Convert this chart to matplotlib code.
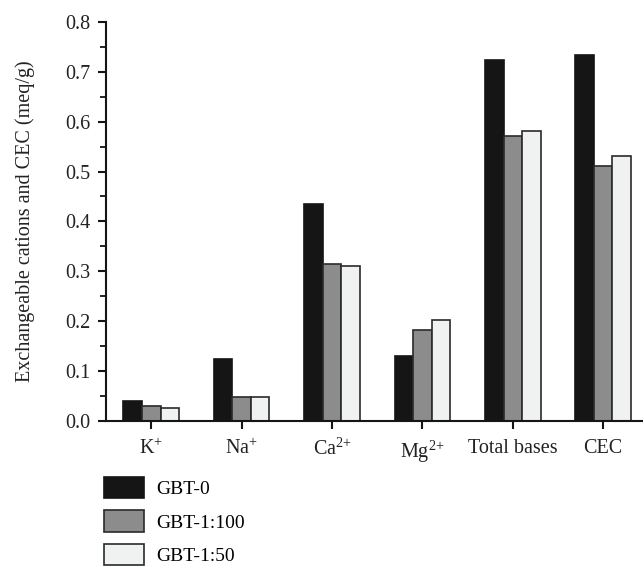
import numpy as np
import matplotlib
matplotlib.use("Agg")
import matplotlib.pyplot as plt
from matplotlib.patches import Patch

# values (meq/g)
categories = ["K$^{+}$", "Na$^{+}$", "Ca$^{2{+}}$", "Mg$^{2{+}}$", "Total bases", "CEC"]
series_names = ["GBT-0", "GBT-1:100", "GBT-1:50"]
gbt_0 = [0.039, 0.124, 0.434, 0.130, 0.723, 0.733]
gbt_1_100 = [0.029, 0.048, 0.314, 0.183, 0.572, 0.512]
gbt_1_50 = [0.025, 0.048, 0.310, 0.203, 0.582, 0.532]

colors = ["#151515", "#8c8c8c", "#f0f2f1"]
edges = ["#151515", "#2a2a2a", "#2a2a2a"]

plt.rcParams["font.family"] = ["Liberation Serif", "DejaVu Serif"]
plt.rcParams["mathtext.fontset"] = "custom"
plt.rcParams["mathtext.rm"] = "Liberation Serif"
plt.rcParams["mathtext.default"] = "rm"

fig = plt.figure(figsize=(6.43, 5.71), dpi=100)
ax = fig.add_axes([0.165, 0.263, 0.835, 0.6985])

x = np.arange(len(categories))
w = 0.205
handles = []
for i, (name, vals) in enumerate(zip(series_names, [gbt_0, gbt_1_100, gbt_1_50])):
    ax.bar(x + (i - 1) * w, vals, width=w, color=colors[i], edgecolor=edges[i],
           linewidth=1.2)
    handles.append(Patch(facecolor=colors[i], edgecolor=edges[i], linewidth=1.2, label=name))

ax.set_xlim(-0.5, 5.44)
ax.set_ylim(0, 0.8)
ax.set_yticks(np.arange(0, 0.81, 0.1))
ax.set_yticks(np.arange(0.05, 0.8, 0.1), minor=True)
ax.set_yticklabels([f"{v:.1f}" for v in np.arange(0, 0.81, 0.1)])
ax.set_xticks(x)
ax.set_xticklabels(categories)

for side in ["top", "right"]:
    ax.spines[side].set_visible(False)
for side in ["left", "bottom"]:
    ax.spines[side].set_linewidth(1.5)
    ax.spines[side].set_color("#151515")
ax.tick_params(axis="both", which="major", direction="out", length=6, width=1.5,
               labelsize=14.5, colors="#151515", labelcolor="#222222")
ax.tick_params(axis="y", which="minor", direction="out", length=4, width=1.3, colors="#151515")
ax.tick_params(axis="x", pad=7)
ax.tick_params(axis="y", pad=5)

ax.set_ylabel("Exchangeable cations and CEC (meq/g)", fontsize=14.5, color="#222222", labelpad=22)

fig.legend(handles=handles, loc="upper left", bbox_to_anchor=(0.149, 0.178),
           frameon=False, fontsize=14, handlelength=2.1, handleheight=1.3,
           labelspacing=0.62, handletextpad=0.6, borderaxespad=0)

fig.savefig("out.png", dpi=100)
